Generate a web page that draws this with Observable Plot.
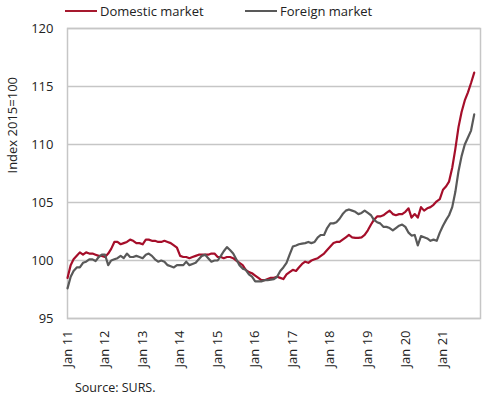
<!DOCTYPE html>
<html><head><meta charset="utf-8">
<script src="https://cdn.jsdelivr.net/npm/d3@7"></script>
<script src="https://cdn.jsdelivr.net/npm/@observablehq/plot@0.6"></script>
<style>
body{margin:0;background:#fff;font-family:"Open Sans",sans-serif;color:#222;}
#wrap{position:relative;width:490px;height:399px;}
.legend{position:absolute;top:0;left:0;width:490px;height:22px;font-size:13px;z-index:2;}
.sw{position:absolute;top:10px;height:2.2px;width:32px;}
.lt{position:absolute;top:2px;line-height:18px;}
#chart{position:absolute;top:12px;left:0;z-index:1;}
.caption{position:absolute;top:380px;left:75px;font-size:12.5px;line-height:16px;}
</style></head><body>
<div id="wrap">
  <div class="legend">
    <div class="sw" style="left:65px;background:#a6192e"></div><div class="lt" style="left:100px">Domestic market</div>
    <div class="sw" style="left:245px;background:#595959"></div><div class="lt" style="left:280px">Foreign market</div>
  </div>
  <div id="chart"></div>
  <div class="caption">Source: SURS.</div>
</div>
<script>
const startYear = 2011;
const seriesNames = ["Domestic market", "Foreign market"];
const domestic = [
  98.5, 99.6, 100.1, 100.4, 100.7, 100.5, 100.7, 100.6, 100.6, 100.5, 100.4, 100.4,
  100.3, 100.6, 101.0, 101.6, 101.6, 101.4, 101.5, 101.6, 101.8, 101.7, 101.5, 101.5,
  101.4, 101.8, 101.8, 101.7, 101.7, 101.6, 101.6, 101.7, 101.6, 101.5, 101.3, 101.1,
  100.4, 100.3, 100.3, 100.2, 100.3, 100.4, 100.5, 100.5, 100.5, 100.5, 100.6, 100.6,
  100.3, 100.3, 100.2, 100.3, 100.3, 100.2, 100.0, 99.8, 99.6, 99.2, 99.0, 98.9,
  98.7, 98.5, 98.3, 98.3, 98.4, 98.5, 98.5, 98.6, 98.5, 98.4, 98.8, 99.0,
  99.2, 99.1, 99.4, 99.7, 99.9, 99.8, 100.0, 100.1, 100.2, 100.4, 100.6, 100.9,
  101.2, 101.5, 101.6, 101.6, 101.8, 102.0, 102.2, 102.0, 101.95, 101.95, 102.0, 102.2,
  102.6, 103.1, 103.5, 103.8, 103.8, 103.9, 104.1, 104.3, 104.0, 103.9, 104.0, 104.0,
  104.2, 104.5, 103.7, 104.0, 103.7, 104.6, 104.3, 104.5, 104.6, 104.8, 105.1, 105.3,
  106.1, 106.4, 106.8, 108.0, 109.6, 111.5, 112.8, 113.8, 114.5, 115.3, 116.2
];
const foreign = [
  97.6, 98.6, 99.1, 99.4, 99.4, 99.8, 99.9, 100.1, 100.1, 99.95, 100.3, 100.5,
  100.5, 99.6, 100.0, 100.1, 100.2, 100.4, 100.2, 100.6, 100.3, 100.3, 100.4, 100.3,
  100.2, 100.5, 100.6, 100.4, 100.1, 99.9, 100.0, 99.9, 99.6, 99.5, 99.4, 99.6,
  99.6, 99.6, 99.9, 99.6, 99.7, 99.8, 100.1, 100.4, 100.5, 100.2, 99.9, 100.0,
  100.0, 100.4, 100.8, 101.15, 100.9, 100.6, 100.1, 99.6, 99.3, 99.2, 98.8, 98.6,
  98.2, 98.2, 98.2, 98.3, 98.3, 98.35, 98.4, 98.6, 99.1, 99.4, 99.8, 100.5,
  101.2, 101.3, 101.4, 101.45, 101.5, 101.6, 101.5, 101.6, 102.0, 102.2, 102.2, 102.8,
  103.2, 103.2, 103.3, 103.6, 104.0, 104.3, 104.4, 104.3, 104.2, 104.0, 104.1, 104.3,
  104.1, 103.9, 103.5, 103.3, 103.2, 102.9, 102.9, 102.8, 102.6, 102.8, 103.0, 103.1,
  102.9, 102.4, 102.15, 102.2, 101.3, 102.1, 102.0, 101.9, 101.7, 101.8, 101.7, 102.4,
  103.0, 103.5, 103.9, 104.6, 105.9, 107.7, 109.0, 110.0, 110.6, 111.2, 112.6
];
const yTicks = [95, 100, 105, 110, 115, 120];
const xTickYears = [2011, 2012, 2013, 2014, 2015, 2016, 2017, 2018, 2019, 2020, 2021];
const colors = ["#a50e2a", "#595959"];

const rows = [];
domestic.forEach((v, i) => rows.push({date: new Date(startYear, i, 1), value: v, series: seriesNames[0]}));
foreign.forEach((v, i) => rows.push({date: new Date(startYear, i, 1), value: v, series: seriesNames[1]}));

const chart = Plot.plot({
  width: 490,
  height: 366,
  marginLeft: 67,
  marginRight: 10,
  marginTop: 16,
  marginBottom: 60,
  style: {fontFamily: "'Open Sans', sans-serif", fontSize: "13px", color: "#222", background: "transparent"},
  x: {type: "time", domain: [new Date(2011, 0, 1), new Date(2022, 0, 1)]},
  y: {domain: [95, 120]},
  color: {domain: seriesNames, range: colors},
  marks: [
    Plot.gridY(yTicks, {stroke: "#c6c6c6", strokeOpacity: 1, strokeWidth: 1.5}),
    Plot.frame({stroke: "#c6c6c6", strokeWidth: 1.5}),
    Plot.axisY(yTicks, {tickSize: 0, tickPadding: 14, fontSize: 13, label: null}),
    Plot.axisX(xTickYears.map(y => new Date(y, 0, 1)), {
      tickSize: 0, tickPadding: 12, tickRotate: -90, fontSize: 13, label: null,
      tickFormat: d => "Jan " + String(d.getFullYear()).slice(2)
    }),
    Plot.text(["Index 2015=100"], {frameAnchor: "left", dx: -55, rotate: -90, fontSize: 13, fill: "#222"}),
    Plot.lineY(rows, {x: "date", y: "value", stroke: "series", strokeWidth: 2.2, z: "series"})
  ]
});
document.getElementById("chart").appendChild(chart);
</script>
</body></html>
